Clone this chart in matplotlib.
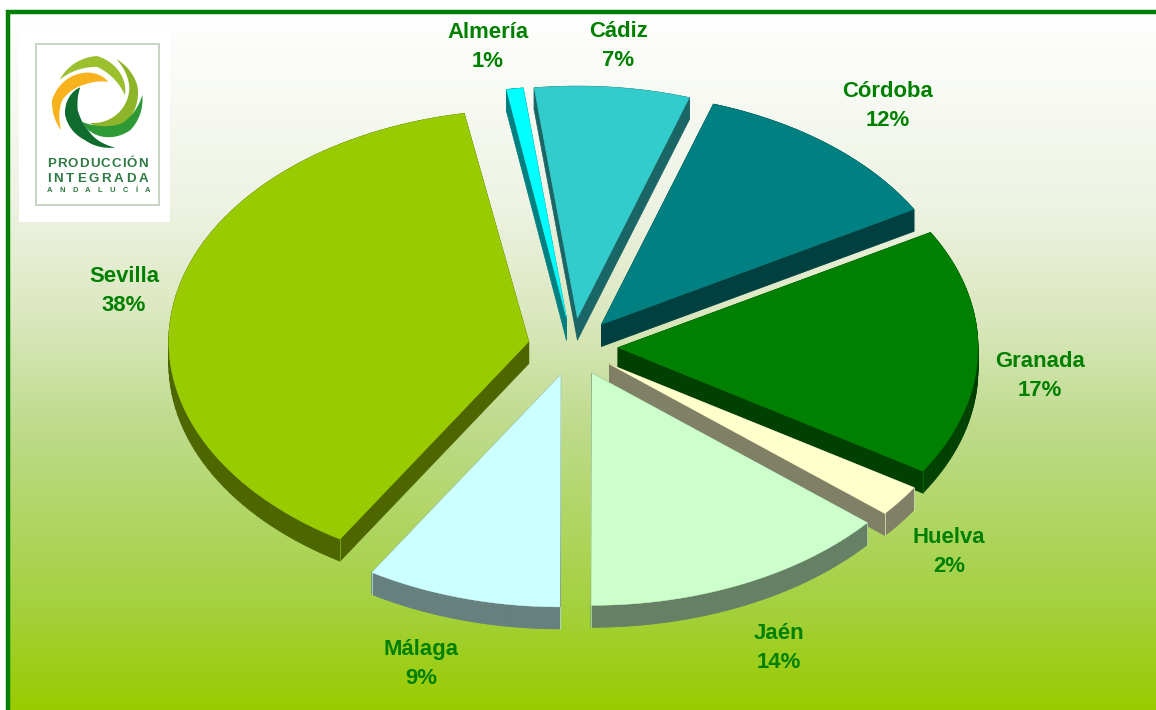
#!/usr/bin/env python3
# -*- coding: utf-8 -*-
import numpy as np
import matplotlib
matplotlib.use('Agg')
import matplotlib.pyplot as plt
from matplotlib.colors import to_rgb, LinearSegmentedColormap
from matplotlib.patches import Polygon, Rectangle

plt.rcParams['font.family'] = ['Liberation Sans', 'DejaVu Sans']

provinces = ['Almería', 'Cádiz', 'Córdoba', 'Granada', 'Huelva', 'Jaén', 'Málaga', 'Sevilla']
shares = [0.75, 6.95, 11.7, 17.2, 2.2, 13.9, 8.75, 38.35]
top_colors = ['#00FFFF', '#33CCCC', '#008080', '#008000', '#FFFFCC', '#CCFFCC', '#CCFFFF', '#99CC00']
# where each label sits, in pixels
label_pos = [(488, 47), (618, 46), (888, 106), (1040, 376), (949, 552), (779, 648), (421, 664), (124, 291)]

CX, CY = 573, 347   # pie centre
RX, RY = 360, 232   # ellipse radii
EXPLODE = 0.125
DEPTH = 22
START = 99.6        # first slice starts here, going clockwise
GREEN = '#008000'

fig = plt.figure(figsize=(11.56, 7.10), dpi=100)
ax = fig.add_axes([0, 0, 1, 1])
ax.set_xlim(0, 1156)
ax.set_ylim(710, 0)
ax.axis('off')

# background gradient with the green frame
grad = LinearSegmentedColormap.from_list('bg', [(0, '#FFFFFF'), (0.27, '#EEF3E4'), (0.43, '#DCE8C0'),
                                                (0.6, '#BDDB8A'), (0.85, '#A4D13F'), (1, '#99CC00')])
ax.imshow(np.linspace(0, 1, 256).reshape(-1, 1), cmap=grad, extent=[8, 1156, 710, 12], aspect='auto', zorder=0)
ax.set_xlim(0, 1156)
ax.set_ylim(710, 0)
ax.plot([8, 8, 1156], [710, 12, 12], color=GREEN, lw=3.2, zorder=1, solid_joinstyle='miter')


def shade(color):
    return tuple(0.5 * c for c in to_rgb(color))


def draw_slice(start, end, color, z):
    mid = np.radians((start + end) / 2)
    tip = np.array([CX + RX * EXPLODE * np.cos(mid), CY - RY * EXPLODE * np.sin(mid)])
    t = np.radians(np.linspace(start, end, 80))
    arc = np.column_stack([tip[0] + RX * np.cos(t), tip[1] - RY * np.sin(t)])
    outline = np.vstack([tip, arc])
    down = np.array([0, DEPTH])
    n = len(outline)
    for i in range(n):
        a, b = outline[i], outline[(i + 1) % n]
        ax.add_patch(Polygon([a, b, b + down, a + down], closed=True, fc=shade(color), ec=shade(color), lw=0.5, zorder=z))
    # the thin pale line on the front corners of the wall
    for p, ang in ((arc[0], t[0]), (arc[-1], t[-1])):
        if np.sin(ang) < 0:
            ax.plot([p[0], p[0]], [p[1], p[1] + DEPTH], color=color, lw=0.7, alpha=0.6, zorder=z + 0.2)
    ax.add_patch(Polygon(outline, closed=True, fc=color, ec=color, lw=0.3, zorder=z + 0.5))


# back slices first so the near ones cover them
angle = START
slices = []
for share, color in zip(shares, top_colors):
    end = angle - share * 3.6
    slices.append((angle, end, color))
    angle = end
order = sorted(slices, key=lambda s: -np.sin(np.radians((s[0] + s[1]) / 2)))
for k, (a0, a1, color) in enumerate(order):
    draw_slice(a0, a1, color, 5 + k)

for name, share, (x, y) in zip(provinces, shares, label_pos):
    ax.text(x, y, '%s\n%d%%' % (name, max(round(share), 1)), color=GREEN, fontsize=15.9, fontweight='bold',
            ha='center', va='center', linespacing=1.55, zorder=30)


# logo, top left
def crescent(angles, radii, width, color):
    t = np.linspace(0, 1, 80)
    ang = np.linspace(angles[0], angles[-1], 80)
    r = np.interp(ang, angles, radii) if angles[0] < angles[-1] else np.interp(-ang, -np.array(angles), radii)
    w = width * np.sin(np.pi * t) ** 0.9
    rad = np.radians(ang)
    outer = np.column_stack([97 + r * np.cos(rad), 103 - r * np.sin(rad)])
    inner = np.column_stack([97 + (r - w) * np.cos(rad), 103 - (r - w) * np.sin(rad)])
    ax.add_patch(Polygon(np.vstack([outer, inner[::-1]]), closed=True, fc=color, ec='none', zorder=41))


def spaced_text(s, x0, x1, y, size):
    # spreads the letters evenly between x0 and x1
    renderer = fig.canvas.get_renderer()
    items = [ax.text(0, y, c, color='#2F7A45', fontsize=size, fontweight='bold', ha='left', va='center', zorder=42) for c in s]
    widths = [it.get_window_extent(renderer).width for it in items]
    gap = (x1 - x0 - sum(widths)) / (len(s) - 1)
    x = x0
    for it, w in zip(items, widths):
        it.set_x(x)
        x += w + gap


ax.add_patch(Rectangle((19, 32), 151, 190, fc='white', ec='none', zorder=40))
ax.add_patch(Rectangle((36, 44), 123, 161, fc='none', ec='#C8D4C4', lw=1.4, zorder=41))
crescent([148, 90, 16], [44, 47, 29], 11, '#9CBF2E')
crescent([66, 24, -109], [48, 44, 21], 12, '#8DB52A')
crescent([10, -39, -128], [46, 43, 24], 12, '#2E9A36')
crescent([137, 200, 252, 292], [23, 34, 39, 48], 14, '#0F6B2E')
crescent([62, 120, 176, 217], [24, 34, 45, 45], 13, '#F7B21E')
spaced_text('PRODUCCIÓN', 47, 148, 164, 9.6)
spaced_text('INTEGRADA', 47, 148, 179, 9.6)
spaced_text('ANDALUCÍA', 47, 150, 191, 5.5)

fig.savefig('out.png', dpi=100, facecolor='white')
